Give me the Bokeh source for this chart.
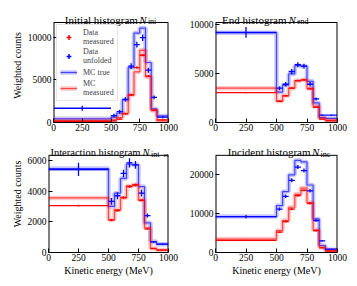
import numpy as np
from bokeh.plotting import figure
from bokeh.layouts import column, row
from bokeh.models import FixedTicker, Legend, LegendItem, Label
from bokeh.embed import file_html
from bokeh.resources import INLINE

# ---------------- data ----------------
edges = [0, 500, 550, 600, 650, 700, 750, 800, 850, 900, 1000]
xticks = [0, 250, 500, 750, 1000]

ini_mc_true = [430, 620, 1085, 2640, 6430, 10460, 11050, 7020, 1590, 775]
ini_mc_meas = [230, 310, 580, 1085, 3220, 5930, 8450, 5350, 1400, 190]
ini_data_unf = [1670, 815, 1280, 2710, 6590, 9110, 9920, 6120, 2950, 620]
ini_data_unf_err = [300, 200, 220, 250, 330, 330, 380, 300, 220, 120]
ini_data_meas = [120, 190, 390, 1010, 3220, 6430, 7870, 5430, 1470, 310]
ini_data_meas_err = [40, 50, 60, 90, 130, 150, 160, 140, 70, 40]

end_mc_true = [9150, 3100, 3800, 4950, 5800, 5750, 4200, 2000, 500, 420]
end_mc_meas = [3500, 2200, 2750, 3500, 4250, 4350, 3500, 1650, 450, 240]
end_data_unf = [9200, 3500, 3900, 5200, 5900, 5750, 3900, 2400, 750, 750]
end_data_unf_err = [550, 200, 220, 260, 250, 250, 230, 150, 60, 60]
end_data_meas = [3050, 2150, 2720, 3500, 4280, 4350, 3420, 1550, 340, 170]
end_data_meas_err = [60, 70, 80, 90, 100, 100, 90, 70, 30, 20]

int_mc_true = [5460, 3000, 3860, 4820, 5740, 5700, 4290, 1930, 710, 540]
int_mc_meas = [3550, 2140, 2790, 3540, 4330, 4410, 3430, 1610, 260, 170]
int_data_unf = [5400, 3320, 3690, 5140, 5830, 5700, 3860, 2400, 690, 540]
int_data_unf_err = [430, 220, 230, 250, 300, 250, 220, 130, 50, 40]
int_data_meas = [3050, 2100, 2720, 3580, 4290, 4390, 3390, 1540, 260, 150]
int_data_meas_err = [50, 60, 70, 80, 90, 90, 80, 60, 25, 20]

inc_mc_true = [9200, 12000, 15600, 19900, 23600, 23200, 17300, 8600, 1800, 700]
inc_mc_meas = [3450, 5600, 8200, 11600, 14900, 16500, 12800, 5800, 1350, 500]
inc_data_unf = [9200, 11100, 14400, 18500, 21900, 21000, 15800, 8200, 3000, 850]
inc_data_unf_err = [400, 400, 450, 500, 500, 500, 450, 300, 150, 80]
inc_data_meas = [3100, 5200, 7950, 11100, 14600, 15900, 12600, 5600, 1200, 350]
inc_data_meas_err = [150, 200, 250, 300, 300, 300, 300, 200, 80, 40]

titles = ["Initial histogram", "End histogram",
          "Interaction histogram", "Incident histogram"]
title_subs = ["ini", "end", "int", "inc"]

FONT = "Liberation Serif"
BLUE = "#0000ff"
RED = "#ff0000"


def make_panel(mc_true, mc_meas, d_unf, d_unf_err, d_meas, d_meas_err,
               y_top, yticks, width, height, bl, br, title_px, bb,
               title_main, title_sub, title_subsub, tpos, tsize,
               xlabel=None, ylabel=None, legend=False):
    # the frame holds a title strip of title_px pixels above the data box
    fw = width - bl - br
    fh = height - bb
    data_px = fh - title_px
    y_frame_end = y_top * fh / data_px
    x_lo, x_hi = xticks[0], xticks[-1]

    p = figure(width=width, height=height, output_backend="svg",
               toolbar_location=None, x_range=(x_lo, x_hi),
               y_range=(0, y_frame_end),
               min_border_left=bl, min_border_right=br,
               min_border_top=0, min_border_bottom=bb)
    p.xgrid.visible = False
    p.ygrid.visible = False
    p.outline_line_color = None
    p.background_fill_color = "white"
    p.border_fill_color = "white"

    for ax in (p.xaxis[0], p.yaxis[0]):
        ax.major_tick_in = 4
        ax.major_tick_out = 0
        ax.minor_tick_in = 0
        ax.minor_tick_out = 0
        ax.major_tick_line_color = "black"
        ax.major_label_text_font = FONT
        ax.major_label_text_font_size = "9.5px"
        ax.major_label_text_color = "black"
        ax.axis_label_text_font = FONT
        ax.axis_label_text_font_size = "10px"
        ax.axis_label_text_font_style = "normal"
        ax.axis_label_text_color = "black"
    p.xaxis.axis_line_color = "black"
    p.yaxis.axis_line_color = None
    p.xaxis.ticker = FixedTicker(ticks=xticks)
    p.yaxis.ticker = FixedTicker(ticks=yticks)
    p.xaxis.major_label_standoff = 1
    p.yaxis.major_label_standoff = 2
    p.xaxis.axis_label_standoff = 1
    p.yaxis.axis_label_standoff = 2
    if xlabel:
        p.xaxis.axis_label = xlabel
    if ylabel:
        p.yaxis.axis_label = ylabel

    # box around the data area
    p.segment(x0=[x_lo, x_hi], y0=[0, 0], x1=[x_lo, x_hi], y1=[y_top, y_top],
              line_color="black", line_width=2)
    p.segment(x0=[x_lo], y0=[y_top], x1=[x_hi], y1=[y_top],
              line_color="black", line_width=1)

    xs = list(edges)
    centers = [(edges[i] + edges[i + 1]) / 2 for i in range(len(edges) - 1)]

    rend = {}
    for key, vals, col in (("true", mc_true, BLUE), ("meas", mc_meas, RED)):
        ys = list(vals) + [vals[-1]]
        band = p.step(x=xs, y=ys, mode="after", line_color=col,
                      line_alpha=0.22, line_width=4.5)
        line = p.step(x=xs, y=ys, mode="after", line_color=col,
                      line_alpha=0.65, line_width=1.2)
        rend[key] = [band, line]

    for key, vals, errs, col in (("dmeas", d_meas, d_meas_err, RED),
                                 ("dunf", d_unf, d_unf_err, BLUE)):
        x0 = [edges[i] for i in range(len(vals))]
        x1 = [edges[i + 1] for i in range(len(vals))]
        p.segment(x0=x0, y0=vals, x1=x1, y1=vals, line_color=col, line_width=1.3)
        lo = [v - e for v, e in zip(vals, errs)]
        hi = [v + e for v, e in zip(vals, errs)]
        p.segment(x0=centers, y0=lo, x1=centers, y1=hi, line_color=col, line_width=1.3)
        sc = p.scatter(x=centers, y=vals, marker="cross", size=0,
                       line_color=col, line_width=1.5)
        rend[key] = [sc]

    if legend:
        items = [
            LegendItem(label="Data\nmeasured", renderers=rend["dmeas"]),
            LegendItem(label="Data\nunfolded", renderers=rend["dunf"]),
            LegendItem(label="MC true", renderers=rend["true"]),
            LegendItem(label="MC\nmeasured", renderers=rend["meas"]),
        ]
        lg = Legend(items=items, location=(3, 21), margin=0, padding=3,
                    spacing=1, glyph_width=17, glyph_height=12,
                    label_standoff=6, label_text_font=FONT,
                    label_text_font_size="8px", label_height=9,
                    border_line_color="#cccccc", border_line_width=1,
                    background_fill_alpha=0.8)
        p.add_layout(lg)

    # title pieces: pixel positions relative to the data box, in data units
    main_r, n_l, sub_l, subsub_l = tpos

    def dx(px):
        return x_lo + px * (x_hi - x_lo) / fw

    def dy(px):
        return y_top + px * y_top / data_px

    p.add_layout(Label(x=dx(main_r), y=dy(3), text=title_main,
                       text_align="right", text_baseline="alphabetic",
                       text_font=FONT, text_font_size=tsize,
                       text_color="black"))
    p.add_layout(Label(x=dx(n_l), y=dy(3), text="N",
                       text_align="left", text_baseline="alphabetic",
                       text_font=FONT, text_font_style="italic",
                       text_font_size=tsize, text_color="black"))
    p.add_layout(Label(x=dx(sub_l), y=dy(1), text=title_sub,
                       text_align="left", text_baseline="alphabetic",
                       text_font=FONT, text_font_size="8px",
                       text_color="black"))
    if title_subsub:
        p.add_layout(Label(x=dx(subsub_l), y=dy(0.3), text=title_subsub,
                           text_align="left", text_baseline="alphabetic",
                           text_font=FONT, text_font_size="6px",
                           text_color="black"))
    return p


p1 = make_panel(ini_mc_true, ini_mc_meas, ini_data_unf, ini_data_unf_err,
                ini_data_meas, ini_data_meas_err, 11700, [0, 5000, 10000],
                175, 127, 40, 15, 14, 13,
                titles[0], title_subs[0], None, (88, 89.5, 98.5, 0), "11px",
                ylabel="Weighted counts", legend=True)
p2 = make_panel(end_mc_true, end_mc_meas, end_data_unf, end_data_unf_err,
                end_data_meas, end_data_meas_err, 10200, [0, 5000, 10000],
                166, 127, 32, 12, 14, 13,
                titles[1], title_subs[1], None, (71, 73, 81.5, 0), "11px")
p3 = make_panel(int_mc_true, int_mc_meas, int_data_unf, int_data_unf_err,
                int_data_meas, int_data_meas_err, 6320, [0, 2000, 4000, 6000],
                175, 143, 40, 15, 20, 25,
                titles[2], title_subs[2], "ex", (92, 94, 102.5, 115), "10.5px",
                xlabel="Kinetic energy (MeV)", ylabel="Weighted counts")
p4 = make_panel(inc_mc_true, inc_mc_meas, inc_data_unf, inc_data_unf_err,
                inc_data_meas, inc_data_meas_err, 24900, [0, 10000, 20000],
                166, 143, 32, 12, 20, 25,
                titles[3], title_subs[3], None, (95, 96.5, 105, 0), "11px",
                xlabel="Kinetic energy (MeV)")

layout = column(row(p1, p2), row(p3, p4), margin=(8, 0, 0, 8))

open("out.html", "w").write(file_html(layout, INLINE))
